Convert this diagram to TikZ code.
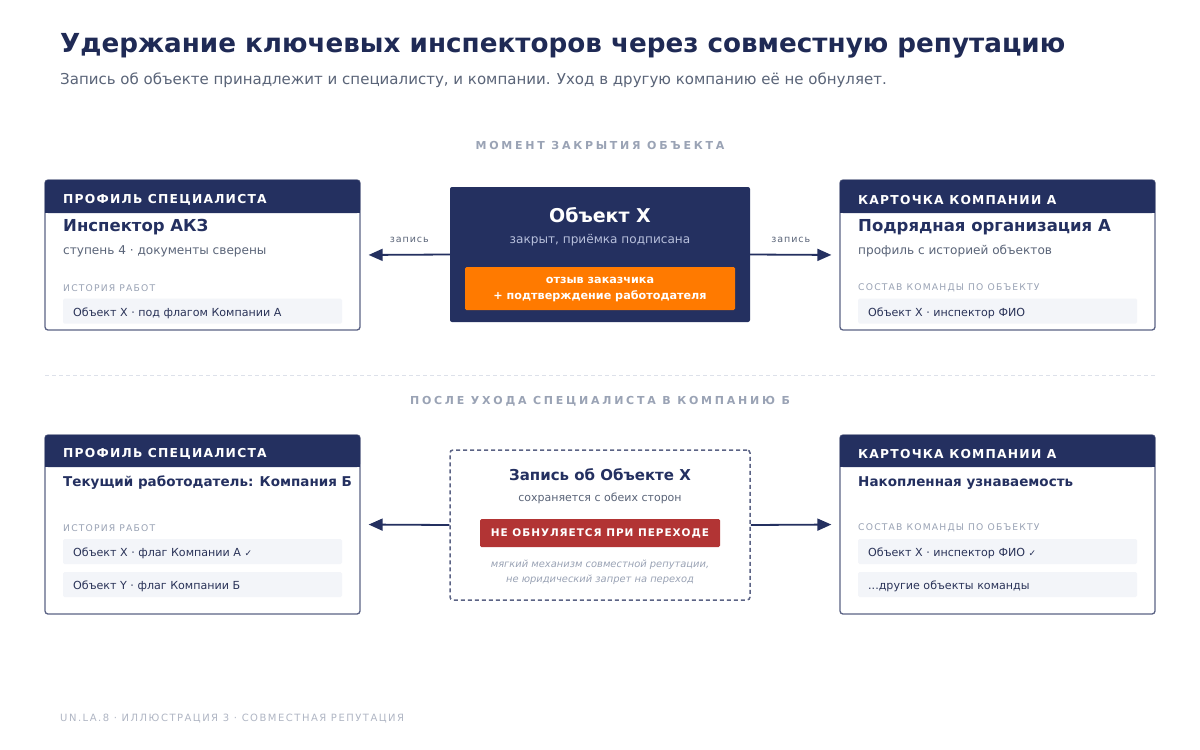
\documentclass[tikz,border=0pt]{standalone}
\usepackage{fontspec}
\setmainfont{DejaVu Sans}
\newfontfamily\trkA[LetterSpace=10]{DejaVu Sans}
\newfontfamily\trkD[LetterSpace=13]{DejaVu Sans}
\newfontfamily\trkR[LetterSpace=9]{DejaVu Sans}
\newfontfamily\trkB[LetterSpace=25]{DejaVu Sans}
\newfontfamily\trkC[LetterSpace=15]{DejaVu Sans}
\usetikzlibrary{arrows.meta}
\definecolor{navy}{HTML}{243060}
\definecolor{titlec}{HTML}{1F2A55}
\definecolor{subc}{HTML}{5A6478}
\definecolor{lblc}{HTML}{9AA3B5}
\definecolor{rowf}{HTML}{F3F5F9}
\definecolor{rowt}{HTML}{2A3358}
\definecolor{brd}{HTML}{5B6385}
\definecolor{orng}{HTML}{FF7A00}
\definecolor{redb}{HTML}{B23434}
\definecolor{light}{HTML}{B8C0DC}
\definecolor{sepc}{HTML}{DDE1EA}
\definecolor{footc}{HTML}{B0B6C4}
\tikzset{
  txt/.style={inner sep=0pt, anchor=west, yshift=-2pt},
  card/.style={draw=brd, line width=1.3pt, fill=white, rounded corners=3pt, inner sep=0pt},
  rowbox/.style={fill=rowf, rounded corners=1.5pt, inner sep=0pt, minimum width=279pt, minimum height=25pt},
  hdr/.style={txt, text=white, font=\trkA\bfseries\fontsize{12.3}{15}\selectfont},
  big/.style={txt, text=navy, font=\bfseries\fontsize{16.5}{20}\selectfont},
  mid/.style={txt, text=navy, font=\bfseries\fontsize{13.5}{17}\selectfont},
  small/.style={txt, text=subc, font=\fontsize{12.1}{15}\selectfont},
  capt/.style={txt, text=lblc, font=\trkD\fontsize{9.2}{11}\selectfont},
  rowtxt/.style={txt, text=rowt, font=\fontsize{11.1}{14}\selectfont},
  sect/.style={inner sep=0pt, text=lblc, font=\trkB\bfseries\fontsize{11}{13}\selectfont},
  arr/.style={draw=navy, line width=1.8pt, -{Triangle[length=14pt,width=12pt]}, shorten >=8pt},
  arrlbl/.style={inner sep=0pt, text=subc, font=\trkA\fontsize{9.5}{11}\selectfont},
}
\begin{document}
\begin{tikzpicture}[x=1pt,y=-1pt]
\useasboundingbox[fill=white] (0,0) rectangle (1200,750);

% title
\node[txt, text=titlec, font=\bfseries\fontsize{26.2}{30}\selectfont] (title) at (60,44) {Удержание ключевых инспекторов через совместную репутацию};
\node[txt, text=subc, font=\fontsize{15}{18}\selectfont] (subtitle) at (60,78) {Запись об объекте принадлежит и специалисту, и компании. Уход в другую компанию её не обнуляет.};

% section 1
\node[sect] (s1) at (600,145) {МОМЕНТ ЗАКРЫТИЯ ОБЪЕКТА};

% top-left card
\node[card, minimum width=315pt, minimum height=150pt] (tl) at (202.5,255) {};
\fill[navy, rounded corners=3pt] (45,180) rectangle (360,213);
\fill[navy] (45,195) rectangle (360,213);
\node[hdr] (tlh) at (63,198) {ПРОФИЛЬ СПЕЦИАЛИСТА};
\node[big] (tlt) at (63,225) {Инспектор АКЗ};
\node[small] (tls) at (63,249) {ступень 4 · документы сверены};
\node[capt] (tlc) at (63,286) {ИСТОРИЯ РАБОТ};
\node[rowbox] (tlr) at (202.5,311) {};
\node[rowtxt] at (73,311) {Объект X · под флагом Компании А};

% center top
\node[fill=navy, rounded corners=2pt, minimum width=300pt, minimum height=135pt, inner sep=0pt] (obj) at (600,254.5) {};
\node[inner sep=0pt, text=white, font=\bfseries\fontsize{19}{22}\selectfont] (objt) at (600,215) {Объект X};
\node[inner sep=0pt, text=light, font=\fontsize{12.1}{15}\selectfont] (objs) at (600,240) {закрыт, приёмка подписана};
\node[fill=orng, rounded corners=1.5pt, minimum width=270pt, minimum height=43pt, inner sep=0pt] (orb) at (600,288.5) {};
\node[inner sep=0pt, text=white, align=center, font=\bfseries\fontsize{11.2}{16}\selectfont] (orbt) at (600,290) {отзыв заказчика\\+ подтверждение работодателя};

% top-right card
\node[card, minimum width=315pt, minimum height=150pt] (tr) at (997.5,255) {};
\fill[navy, rounded corners=3pt] (840,180) rectangle (1155,213);
\fill[navy] (840,195) rectangle (1155,213);
\node[hdr] (trh) at (858,198) {КАРТОЧКА КОМПАНИИ А};
\node[big] (trt) at (858,225) {Подрядная организация А};
\node[small] (trs) at (858,249) {профиль с историей объектов};
\node[capt] (trc) at (858,286) {СОСТАВ КОМАНДЫ ПО ОБЪЕКТУ};
\node[rowbox] (trr) at (997.5,311) {};
\node[rowtxt] at (868,311) {Объект X · инспектор ФИО};

% top arrows
\draw[arr] (obj.west) -- (tl.east) node[arrlbl, pos=0.5, yshift=15pt, xshift=4pt] {запись};
\draw[arr] (obj.east) -- (tr.west) node[arrlbl, pos=0.5, yshift=15pt, xshift=-4pt] {запись};

% separator
\coordinate (sepl) at (45,375);
\coordinate (sepr) at (1155,375);
\draw[sepc, line width=1pt, dash pattern=on 4pt off 3pt] (sepl) -- (sepr);

% section 2
\node[sect] (s2) at (600,401) {ПОСЛЕ УХОДА СПЕЦИАЛИСТА В КОМПАНИЮ Б};

% bottom-left card
\node[card, minimum width=315pt, minimum height=179pt] (bl) at (202.5,524.5) {};
\fill[navy, rounded corners=3pt] (45,435) rectangle (360,467);
\fill[navy] (45,450) rectangle (360,467);
\node[hdr] (blh) at (63,452) {ПРОФИЛЬ СПЕЦИАЛИСТА};
\node[mid] (blt) at (63,481) {Текущий работодатель: Компания Б};
\node[capt] (blc) at (63,526) {ИСТОРИЯ РАБОТ};
\node[rowbox] (blr1) at (202.5,551.5) {};
\node[rowtxt] at (73,551.5) {Объект X · флаг Компании А \fontsize{9}{11}\selectfont✓};
\node[rowbox] (blr2) at (202.5,584.5) {};
\node[rowtxt] at (73,584.5) {Объект Y · флаг Компании Б};

% bottom center
\node[draw=brd, fill=white, line width=1.5pt, dash pattern=on 4pt off 3pt, rounded corners=3pt, minimum width=300pt, minimum height=150pt, inner sep=0pt] (rec) at (600,525) {};
\node[inner sep=0pt, text=navy, font=\bfseries\fontsize{15}{18}\selectfont] (rect) at (600,475) {Запись об Объекте X};
\node[inner sep=0pt, text=subc, font=\fontsize{11}{14}\selectfont] (recs) at (600,498) {сохраняется с обеих сторон};
\node[fill=redb, rounded corners=1.5pt, minimum width=240pt, minimum height=28pt, inner sep=0pt, text=white, font=\trkR\bfseries\fontsize{10.5}{13}\selectfont] (redn) at (600,533) {НЕ ОБНУЛЯЕТСЯ ПРИ ПЕРЕХОДЕ};
\node[inner sep=0pt, text=lblc, align=center, font=\itshape\fontsize{9.9}{15}\selectfont] (recn) at (600,572.5) {мягкий механизм совместной репутации,\\не юридический запрет на переход};

% bottom-right card
\node[card, minimum width=315pt, minimum height=179pt] (br) at (997.5,524.5) {};
\fill[navy, rounded corners=3pt] (840,435) rectangle (1155,467);
\fill[navy] (840,450) rectangle (1155,467);
\node[hdr] (brh) at (858,452) {КАРТОЧКА КОМПАНИИ А};
\node[mid] (brt) at (858,481) {Накопленная узнаваемость};
\node[capt] (brc) at (858,526) {СОСТАВ КОМАНДЫ ПО ОБЪЕКТУ};
\node[rowbox] (brr1) at (997.5,551.5) {};
\node[rowtxt] at (868,551.5) {Объект X · инспектор ФИО \fontsize{9}{11}\selectfont✓};
\node[rowbox] (brr2) at (997.5,584.5) {};
\node[rowtxt] at (868,584.5) {...другие объекты команды};

% bottom arrows
\draw[arr] (rec.west) -- (bl.east);
\draw[arr] (rec.east) -- (br.west);

% footer
\node[txt, text=footc, font=\trkC\fontsize{10}{12}\selectfont] (foot) at (60,717) {UN.LA.8 · ИЛЛЮСТРАЦИЯ 3 · СОВМЕСТНАЯ РЕПУТАЦИЯ};
\end{tikzpicture}
\end{document}
